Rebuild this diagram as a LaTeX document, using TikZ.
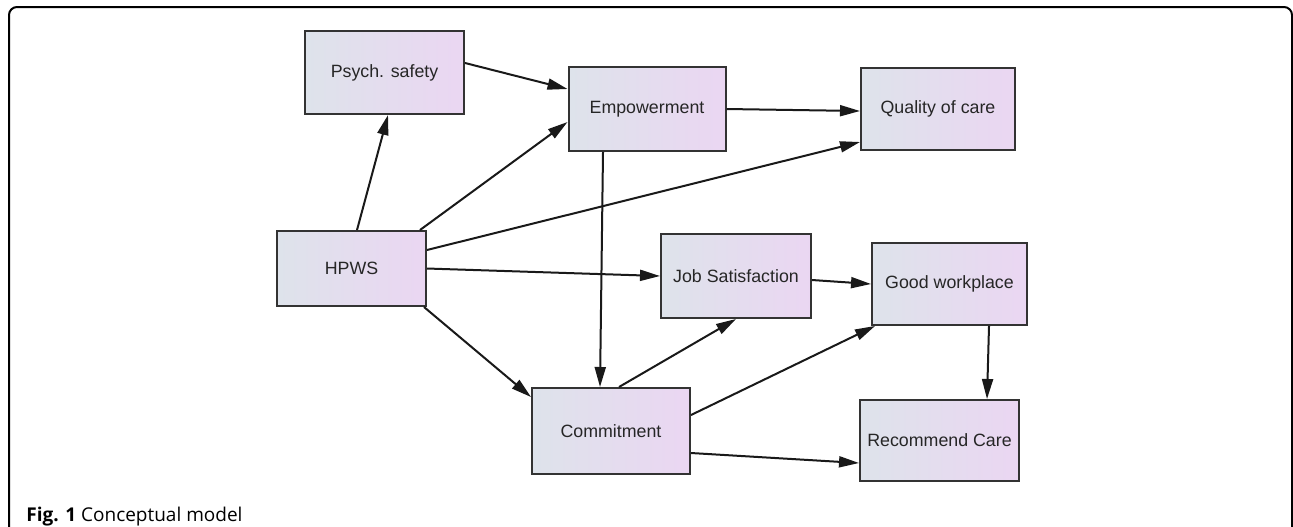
\documentclass[tikz,border=0pt]{standalone}
\usepackage{fontspec}
\setmainfont{Liberation Sans}
\newfontfamily\captionfont{Open Sans}
\usetikzlibrary{arrows.meta,calc,positioning}
\definecolor{boxgray}{rgb}{0.87, 0.89, 0.92}
\definecolor{boxlilac}{rgb}{0.92, 0.84, 0.95}
\definecolor{edgegray}{rgb}{0.20, 0.20, 0.20}
\tikzset{
  var/.style={
    draw=edgegray,
    line width=1pt,
    left color=boxgray,
    right color=boxlilac,
    align=center,
    minimum width=79pt,
    minimum height=42pt,
    inner sep=2pt,
    text=black!85,
    font=\fontsize{8.9}{10.5}\selectfont
  },
  arrow/.style={
    -{Triangle[length=10pt,width=5.5pt]},
    line width=1pt,
    black!90
  }
}

\begin{document}
\begin{tikzpicture}[x=0.5pt,y=-0.5pt]
\useasboundingbox (0,0) rectangle (1293,526);
\clip (0,0) rectangle (1293,526);
% frame
\draw[line width=1pt, rounded corners=4pt] (9,560) -- (9,7) -- (1292,7) -- (1292,560);
% variables
\node[var, minimum width=79.5pt, minimum height=41.5pt] (psych) at (384.5,72.5) {Psych. safety};
\node[var, minimum width=78.5pt, minimum height=42pt] (empow) at (647,109) {Empowerment};
\node[var, minimum width=77pt, minimum height=41pt] (quality) at (938,109) {Quality of care};
\node[var, minimum width=74.5pt, minimum height=37.5pt] (hpws) at (351.5,268.5) {HPWS};
\node[var, minimum width=75pt, minimum height=42pt] (jobsat) at (736,276) {Job Satisfaction};
\node[var, minimum width=77.5pt, minimum height=41pt] (goodwp) at (949.5,284) {Good workplace};
\node[var, minimum width=79pt, minimum height=43pt] (commit) at (611,431) {Commitment};
\node[var, minimum width=79.5pt, minimum height=40.5pt] (recomm) at (939.5,440.5) {Recommend Care};
% paths
\draw[arrow] ([xshift=2.75pt]hpws.north) -- ([xshift=1.75pt]psych.south);
\draw[arrow] ([xshift=-3.5pt]hpws.north east) -- ([yshift=-6.5pt]empow.west);
\draw[arrow] ([yshift=9.25pt]hpws.east) -- ([yshift=4.5pt]quality.south west);
\draw[arrow] (hpws.east) -- (jobsat.west);
\draw[arrow] ([xshift=-1.5pt]hpws.south east) -- ([yshift=-5pt]commit.north west);
\draw[arrow] ([yshift=4.75pt]psych.east) -- ([yshift=10pt]empow.west);
\draw[arrow] (empow.east) -- ([yshift=-1pt]quality.west);
\draw[arrow] ([xshift=-22pt]empow.south) -- ([xshift=-5.5pt]commit.north);
\draw[arrow] ([yshift=-2pt]jobsat.east) -- (goodwp.west);
\draw[arrow] ([xshift=4pt]commit.north) -- (jobsat.south);
\draw[arrow] ([yshift=8pt]commit.east) -- ([xshift=2pt]goodwp.south west);
\draw[arrow] ([yshift=-11pt]commit.east) -- ([yshift=-11.25pt]recomm.west);
\draw[arrow] ([xshift=19.75pt]goodwp.south) -- ([xshift=23.75pt]recomm.north);
% caption
\node[anchor=base west, inner sep=0pt, font=\captionfont\fontsize{9.5}{11}\selectfont] (caption) at (26,521)
  {\textbf{Fig. 1} Conceptual model};
\end{tikzpicture}
\end{document}
